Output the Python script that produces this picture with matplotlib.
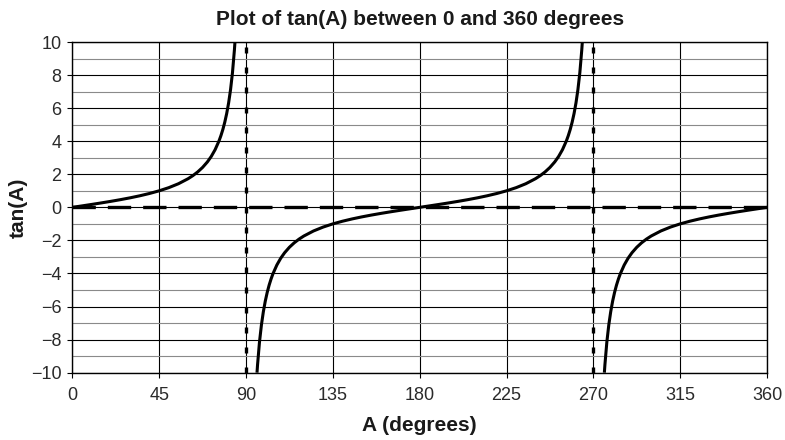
import numpy as np
import matplotlib
matplotlib.use("Agg")
import matplotlib.pyplot as plt

# Angle samples (degrees) and tan(A) values; NaN breaks the line at the asymptotes
angle_deg = [
    0, 5, 10, 15, 20, 25, 30, 35, 40, 45, 50, 55, 60, 62.5, 65, 67.5, 70, 72, 74, 76,
    77, 78, 79, 80, 81, 82, 83, 84, 84.29,
    90,
    95.71, 96, 97, 98, 99, 100, 101, 102, 103, 104, 106, 108, 110, 112.5, 115, 117.5,
    120, 125, 130, 135, 140, 145, 150, 155, 160, 165, 170, 175, 180, 185, 190, 195,
    200, 205, 210, 215, 220, 225, 230, 235, 240, 242.5, 245, 247.5, 250, 252, 254,
    256, 257, 258, 259, 260, 261, 262, 263, 264, 264.29,
    270,
    275.71, 276, 277, 278, 279, 280, 281, 282, 283, 284, 286, 288, 290, 292.5, 295,
    297.5, 300, 305, 310, 315, 320, 325, 330, 335, 340, 345, 350, 355, 360,
]
tan_values = [
    0.0, 0.0875, 0.1763, 0.2679, 0.3640, 0.4663, 0.5774, 0.7002, 0.8391, 1.0, 1.1918,
    1.4281, 1.7321, 1.9210, 2.1445, 2.4142, 2.7475, 3.0777, 3.4874, 4.0108,
    4.3315, 4.7046, 5.1446, 5.6713, 6.3138, 7.1154, 8.1443, 9.5144, 10.0,
    np.nan,
    -10.0, -9.5144, -8.1443, -7.1154, -6.3138, -5.6713, -5.1446, -4.7046, -4.3315,
    -4.0108, -3.4874, -3.0777, -2.7475, -2.4142, -2.1445, -1.9210,
    -1.7321, -1.4281, -1.1918, -1.0, -0.8391, -0.7002, -0.5774, -0.4663, -0.3640,
    -0.2679, -0.1763, -0.0875, 0.0, 0.0875, 0.1763, 0.2679,
    0.3640, 0.4663, 0.5774, 0.7002, 0.8391, 1.0, 1.1918, 1.4281, 1.7321, 1.9210,
    2.1445, 2.4142, 2.7475, 3.0777, 3.4874,
    4.0108, 4.3315, 4.7046, 5.1446, 5.6713, 6.3138, 7.1154, 8.1443, 9.5144, 10.0,
    np.nan,
    -10.0, -9.5144, -8.1443, -7.1154, -6.3138, -5.6713, -5.1446, -4.7046, -4.3315,
    -4.0108, -3.4874, -3.0777, -2.7475, -2.4142, -2.1445,
    -1.9210, -1.7321, -1.4281, -1.1918, -1.0, -0.8391, -0.7002, -0.5774, -0.4663,
    -0.3640, -0.2679, -0.1763, -0.0875, 0.0,
]
asymptotes = [90, 270]
x_ticks = [0, 45, 90, 135, 180, 225, 270, 315, 360]
y_ticks = [-10, -8, -6, -4, -2, 0, 2, 4, 6, 8, 10]
y_minor = [-9, -7, -5, -3, -1, 1, 3, 5, 7, 9]

plt.rcParams['font.family'] = ['Liberation Sans', 'DejaVu Sans']

fig = plt.figure(figsize=(7.85, 4.4), dpi=100)
ax = fig.add_axes([0.0921, 0.153, 0.885, 0.7515])

ax.set_xlim(0, 360)
ax.set_ylim(-10, 10)
ax.set_xticks(x_ticks)
ax.set_yticks(y_ticks)
ax.set_yticks(y_minor, minor=True)

# grid: black at major positions, grey at odd values
ax.grid(True, which='major', color='black', linewidth=0.8)
ax.grid(True, which='minor', axis='y', color='#8a8a8a', linewidth=0.8)
ax.set_axisbelow(True)
ax.tick_params(axis='both', which='major', direction='out', length=3.3,
               width=0.8, labelsize=13, colors='black', labelcolor='#2a2a2a')
ax.tick_params(axis='x', which='major', pad=7)
ax.tick_params(axis='y', which='major', pad=4.5)
ax.tick_params(axis='y', which='minor', length=0)
for s in ax.spines.values():
    s.set_color('black')
    s.set_linewidth(1.0)

ax.plot(angle_deg, tan_values, color='black', linewidth=2.2, zorder=3,
        solid_capstyle='butt')

# x axis dashed reference and vertical asymptotes
ax.axhline(0, color='black', linewidth=2.4, linestyle=(0, (7, 3.6)), zorder=4)
for a in asymptotes:
    ax.axvline(a, color='black', linewidth=2.4, linestyle=(0, (1.8, 4.2)), zorder=4)

ax.set_title('Plot of tan(A) between 0 and 360 degrees', fontsize=15,
             fontweight='bold', pad=12, color='#1a1a1a')
ax.set_xlabel('A (degrees)', fontsize=15, fontweight='bold', labelpad=8.5,
              color='#1a1a1a')
ax.set_ylabel('tan(A)', fontsize=15, fontweight='bold', labelpad=2,
              color='#1a1a1a')

fig.savefig('out.png', dpi=100)
